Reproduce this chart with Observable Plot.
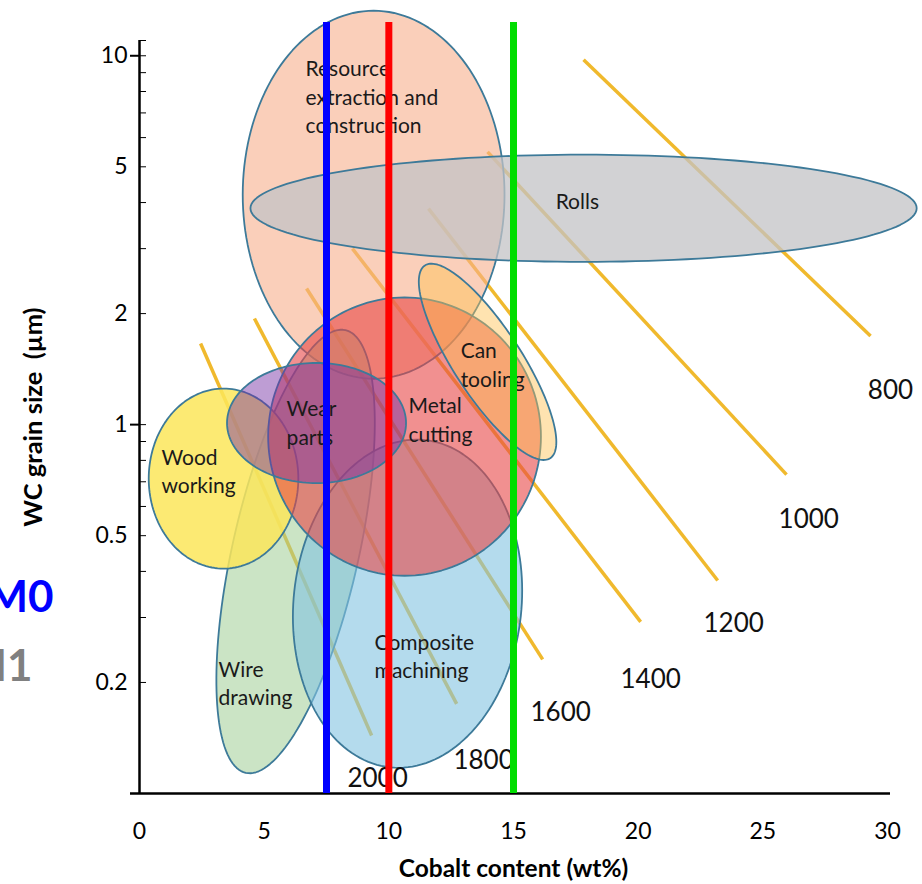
<!DOCTYPE html>
<html><head><meta charset="utf-8">
<script src="https://cdn.jsdelivr.net/npm/d3@7"></script>
<script src="https://cdn.jsdelivr.net/npm/@observablehq/plot@0.6"></script>
<style>
html,body{margin:0;padding:0;background:#fff;overflow:hidden}
#chart svg{display:block}
#chart svg g.tick line{stroke-width:2}
</style></head><body><div id="chart"></div>
<script>
// ---------- DATA ----------
const xTicks = [0, 5, 10, 15, 20, 25, 30];
const yTicks = [0.2, 0.3, 0.4, 0.5, 0.6, 0.7, 0.8, 0.9, 1, 2, 3, 4, 5, 6, 7, 8, 9, 10, 11];
const yTickLabels = [0.2, 0.5, 1, 2, 5, 10];

// application areas (ellipses): centre (wt%, µm), semi-axes (wt% equivalents), tilt (deg)
const areaNames = ["Resource\nextraction and\nconstruction", "Rolls", "Wire\ndrawing", "Wood\nworking",
                   "Composite\nmachining", "Metal\ncutting", "Can\ntooling", "Wear\nparts"];
const areaCx = [9.39, 17.81, 6.26, 3.37, 10.75, 10.63, 13.96, 7.1];
const areaCy = [4.2, 3.86, 0.453, 0.714, 0.327, 0.928, 1.48, 1.01];
const areaA = [5.25, 13.36, 9.1, 3.0, 6.6, 5.47, 4.61, 3.59];
const areaB = [7.38, 2.15, 2.53, 3.61, 4.57, 5.58, 1.36, 2.41];
const areaAngle = [0, 0, 77.3, 0, 83.9, 0, -57, 0];
const areaLabelX = [6.66, 16.69, 3.17, 0.88, 9.43, 10.79, 12.88, 5.9];
const areaLabelY = [7.79, 4.07, 0.201, 0.755, 0.2373, 1.041, 1.468, 1.019];

// hardness isolines (HV)
const hardness = [800, 1000, 1200, 1400, 1600, 1800, 2000];
const hardX1 = [17.81, 13.96, 11.59, 8.54, 6.70, 4.61, 2.45];
const hardY1 = [9.75, 5.49, 3.85, 3.0, 2.34, 1.94, 1.66];
const hardX2 = [29.32, 25.95, 23.19, 20.10, 16.17, 12.72, 9.31];
const hardY2 = [1.74, 0.732, 0.378, 0.292, 0.231, 0.175, 0.1436];
const hardLabelX = [30.12, 26.84, 23.83, 20.5, 16.89, 13.8, 9.55];
const hardLabelY = [1.236, 0.553, 0.289, 0.204, 0.166, 0.123, 0.110];

// vertical reference lines (Co content)
const refCo = [7.5, 10, 15];
const refTop = 12.3;

// ---------- STYLE ----------
const W = 922, H = 884, mL = 139, mR = 35, mT = 40, mB = 91;
const xDomain = [0, 30], yDomain = [0.1, 11];
const areaFill = ["rgb(247,175,140)", "rgb(195,195,198)", "rgb(160,205,150)", "rgb(252,230,90)",
                  "rgb(130,195,225)", "rgb(232,70,70)", "rgb(255,192,80)", "rgb(120,50,165)"];
const areaOpacity = [0.6, 0.75, 0.55, 0.85, 0.6, 0.6, 0.45, 0.48];
const refColors = ["#0000ff", "#ff0000", "#00dd00"];
const font = "Lato, 'Open Sans', sans-serif";
const frameMidY = mT + (H - mT - mB) / 2;

// visual aspect: wt% units per decade
const pxPerX = (W - mL - mR) / (xDomain[1] - xDomain[0]);
const pxPerDec = (H - mT - mB) / Math.log10(yDomain[1] / yDomain[0]);
const K = pxPerDec / pxPerX;

function ellipsePts(i) {
  const pts = [], th = areaAngle[i] * Math.PI / 180, n = 160;
  for (let s = 0; s < n; s++) {
    const t = 2 * Math.PI * s / n;
    const u = areaA[i] * Math.cos(t), w = areaB[i] * Math.sin(t);
    const du = u * Math.cos(th) - w * Math.sin(th);
    const dv = u * Math.sin(th) + w * Math.cos(th);
    pts.push({x: areaCx[i] + du, y: areaCy[i] * Math.pow(10, dv / K)});
  }
  return pts;
}

const hardTable = hardness.map((h, i) => ({h, x1: hardX1[i], y1: hardY1[i], x2: hardX2[i], y2: hardY2[i], lx: hardLabelX[i], ly: hardLabelY[i]}));
const labelTable = areaNames.map((n, i) => ({n, x: areaLabelX[i], y: areaLabelY[i]}));

const marks = [
  Plot.link(hardTable, {x1: "x1", y1: "y1", x2: "x2", y2: "y2", stroke: "#f0b92d", strokeWidth: 3.5}),
  ...areaNames.map((n, i) => Plot.line(ellipsePts(i), {x: "x", y: "y", curve: "linear-closed",
      fill: areaFill[i], fillOpacity: areaOpacity[i], stroke: "#3d7a99", strokeWidth: 1.8})),
  Plot.text(labelTable, {x: "x", y: "y", text: "n", textAnchor: "start", lineAnchor: "middle",
      lineHeight: 1.36, fontSize: 21, fill: "#1a1a1a"}),
  Plot.text(hardTable, {x: "lx", y: "ly", text: d => String(d.h), fontSize: 26, fill: "#111"}),
  // axes lines
  Plot.ruleX([0], {y1: yDomain[0], y2: yDomain[1], stroke: "#000", strokeWidth: 2.5}),
  Plot.ruleY([yDomain[0]], {insetLeft: -9, insetRight: -3, stroke: "#000", strokeWidth: 2.5}),
  Plot.ruleY([1, 10], {x1: 0, x2: 0, insetLeft: -9, stroke: "#000", strokeWidth: 2}),
  ...refCo.map((c, i) => Plot.ruleX([c], {y1: yDomain[0], y2: refTop, stroke: refColors[i], strokeWidth: 7})),
  // axis titles
  Plot.text(["Cobalt content (wt%)"], {frameAnchor: "bottom", dy: 76, textAnchor: "middle", lineAnchor: "middle",
      fontSize: 24.5, fontWeight: "bold", fill: "#000"}),
  Plot.text(["WC grain size  (µm)"], {frameAnchor: "left", dx: -106, dy: 0, rotate: -90, textAnchor: "middle", lineAnchor: "middle",
      fontSize: 25.5, fontWeight: "bold", fill: "#000"}),
  Plot.text(["M0"], {frameAnchor: "left", dx: 53 - mL, dy: 597.5 - frameMidY, textAnchor: "end", lineAnchor: "middle",
      fontSize: 44, fontWeight: "bold", fill: "#0000ff"}),
  Plot.text(["M1"], {frameAnchor: "left", dx: 32 - mL, dy: 666 - frameMidY, textAnchor: "end", lineAnchor: "middle",
      fontSize: 44, fontWeight: "bold", fill: "#808080"})
];

const chart = Plot.plot({
  width: W, height: H,
  marginLeft: mL, marginRight: mR, marginTop: mT, marginBottom: mB,
  style: {fontFamily: font, fontSize: "23px", background: "#fff", color: "#000", overflow: "hidden"},
  x: {domain: xDomain, ticks: xTicks, tickSize: 0, tickPadding: 29, label: null},
  y: {type: "log", domain: yDomain, ticks: yTicks, tickSize: -7, tickPadding: 19, label: null,
      tickFormat: d => yTickLabels.includes(d) ? String(d) : ""},
  marks
});
document.getElementById("chart").appendChild(chart);
</script></body></html>
